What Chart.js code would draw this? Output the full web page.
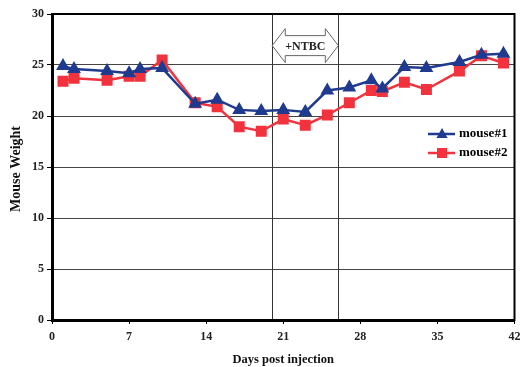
<!DOCTYPE html>
<html>
<head>
<meta charset="utf-8">
<script src="https://cdn.jsdelivr.net/npm/chart.js@4/dist/chart.umd.min.js"></script>
<style>
  html, body { margin: 0; padding: 0; background: #fff; }
  #wrap { width: 523px; height: 367px; }
</style>
</head>
<body>
<div id="wrap"><canvas id="weightChart"></canvas></div>
<script>
// data
const days = [1, 2, 5, 7, 8, 10, 13, 15, 17, 19, 21, 23, 25, 27, 29, 30, 32, 34, 37, 39, 41];
const mouse1 = [24.9, 24.6, 24.4, 24.2, 24.6, 24.7, 21.2, 21.6, 20.6, 20.5, 20.6, 20.4, 22.5, 22.8, 23.5, 22.7, 24.8, 24.7, 25.3, 26.0, 26.1];
const mouse2 = [23.4, 23.7, 23.5, 23.9, 23.9, 25.5, 21.3, 20.9, 18.95, 18.5, 19.7, 19.1, 20.1, 21.3, 22.5, 22.4, 23.3, 22.6, 24.4, 25.9, 25.2];
const xTicks = [0, 7, 14, 21, 28, 35, 42];
const ntbcStart = 20;
const ntbcEnd = 26;

const serif = '"Liberation Serif", "DejaVu Serif", serif';

function toPoints(ys) {
    return days.map((d, i) => ({ x: d, y: ys[i] }));
}

// vertical NTBC lines, frame, arrow, legend and y title
const extras = {
    id: 'extras',
    beforeDatasetsDraw(chart) {
        const ctx = chart.ctx;
        const xs = chart.scales.x;
        const area = chart.chartArea;
        ctx.save();
        ctx.strokeStyle = '#333';
        ctx.lineWidth = 1;
        [ntbcStart, ntbcEnd].forEach(v => {
            const px = Math.round(xs.getPixelForValue(v)) + 0.5;
            ctx.beginPath();
            ctx.moveTo(px, area.top);
            ctx.lineTo(px, area.bottom);
            ctx.stroke();
        });
        ctx.restore();
    },
    afterDatasetsDraw(chart) {
        const ctx = chart.ctx;
        const xs = chart.scales.x;
        const ys = chart.scales.y;
        const area = chart.chartArea;
        ctx.save();

        // frame
        ctx.strokeStyle = '#000';
        ctx.lineWidth = 2;
        ctx.strokeRect(area.left, area.top, area.right - area.left, area.bottom - area.top);

        // y axis title
        ctx.save();
        ctx.translate(16, (area.top + area.bottom) / 2 + 2);
        ctx.rotate(-Math.PI / 2);
        ctx.fillStyle = '#111';
        ctx.font = 'bold 14px ' + serif;
        ctx.textAlign = 'center';
        ctx.textBaseline = 'middle';
        ctx.fillText('Mouse Weight', 0, 0);
        ctx.restore();

        // double arrow
        const x0 = xs.getPixelForValue(ntbcStart);
        const x1 = xs.getPixelForValue(ntbcEnd);
        const yc = ys.getPixelForValue(26.9);
        const headH = 17, bodyH = 10, headW = 13;
        ctx.beginPath();
        ctx.moveTo(x0, yc);
        ctx.lineTo(x0 + headW, yc - headH);
        ctx.lineTo(x0 + headW, yc - bodyH);
        ctx.lineTo(x1 - headW, yc - bodyH);
        ctx.lineTo(x1 - headW, yc - headH);
        ctx.lineTo(x1, yc);
        ctx.lineTo(x1 - headW, yc + headH);
        ctx.lineTo(x1 - headW, yc + bodyH);
        ctx.lineTo(x0 + headW, yc + bodyH);
        ctx.lineTo(x0 + headW, yc + headH);
        ctx.closePath();
        ctx.fillStyle = '#fff';
        ctx.fill();
        ctx.strokeStyle = '#666';
        ctx.lineWidth = 1;
        ctx.stroke();
        ctx.fillStyle = '#222';
        ctx.font = 'bold 12px ' + serif;
        ctx.textAlign = 'center';
        ctx.textBaseline = 'middle';
        ctx.fillText('+NTBC', (x0 + x1) / 2, yc + 1);

        // legend
        const items = chart.data.datasets;
        const lx = 428, ly = 134;
        items.forEach((ds, i) => {
            const y = ly + i * 19;
            ctx.strokeStyle = ds.borderColor;
            ctx.lineWidth = 2.5;
            ctx.beginPath();
            ctx.moveTo(lx, y);
            ctx.lineTo(lx + 27, y);
            ctx.stroke();
            ctx.fillStyle = ds.backgroundColor;
            if (ds.pointStyle === 'triangle') {
                ctx.beginPath();
                ctx.moveTo(lx + 14, y - 6);
                ctx.lineTo(lx + 19.5, y + 4);
                ctx.lineTo(lx + 8.5, y + 4);
                ctx.closePath();
                ctx.fill();
            } else {
                ctx.fillRect(lx + 9, y - 5, 10, 10);
            }
            ctx.fillStyle = '#000';
            ctx.font = 'bold 13px ' + serif;
            ctx.textAlign = 'left';
            ctx.textBaseline = 'middle';
            ctx.fillText(ds.label, lx + 31, y);
        });
        ctx.restore();
    }
};

const ctx = document.getElementById('weightChart').getContext('2d');
const weightChart = new Chart(ctx, {
    type: 'line',
    data: {
        datasets: [{
            label: 'mouse#1',
            data: toPoints(mouse1),
            borderColor: '#1F3A8E',
            backgroundColor: '#1F3A8E',
            borderWidth: 2.5,
            pointStyle: 'triangle',
            pointRadius: 5.5,
            pointHoverRadius: 5.5,
            tension: 0
        }, {
            label: 'mouse#2',
            data: toPoints(mouse2),
            borderColor: '#F2323C',
            backgroundColor: '#F2323C',
            borderWidth: 2.5,
            pointStyle: 'rect',
            pointRadius: 6,
            pointHoverRadius: 6,
            tension: 0
        }]
    },
    options: {
        responsive: true,
        maintainAspectRatio: false,
        animation: false,
        layout: {
            padding: { top: 14, right: 6, left: 0, bottom: 0 }
        },
        scales: {
            x: {
                type: 'linear',
                min: 0,
                max: 42,
                afterBuildTicks(scale) {
                    scale.ticks = xTicks.map(v => ({ value: v }));
                },
                afterFit(scale) {
                    scale.height = 47;
                    scale.paddingLeft = 0;
                    scale.paddingRight = 0;
                },
                grid: {
                    drawOnChartArea: false,
                    drawTicks: true,
                    tickLength: 4,
                    tickColor: '#000'
                },
                border: { color: '#000', width: 3 },
                ticks: {
                    color: '#222',
                    padding: 6,
                    maxRotation: 0,
                    font: { family: serif, size: 12, weight: 'bold' }
                },
                title: {
                    display: true,
                    text: 'Days post injection',
                    color: '#111',
                    padding: { top: 2, bottom: 0 },
                    font: { family: serif, size: 12.5, weight: 'bold' }
                }
            },
            y: {
                min: 0,
                max: 30,
                ticks: {
                    stepSize: 5,
                    color: '#222',
                    padding: 3,
                    font: { family: serif, size: 12, weight: 'bold' }
                },
                afterFit(scale) {
                    scale.width = 52;
                    scale.paddingTop = 0;
                    scale.paddingBottom = 0;
                },
                grid: {
                    color: '#444',
                    lineWidth: 1,
                    tickLength: 5,
                    tickColor: '#000'
                },
                border: { color: '#000', width: 3 },
                title: { display: false }
            }
        },
        plugins: {
            legend: { display: false },
            tooltip: { enabled: false }
        }
    },
    plugins: [extras]
});
</script>
</body>
</html>
